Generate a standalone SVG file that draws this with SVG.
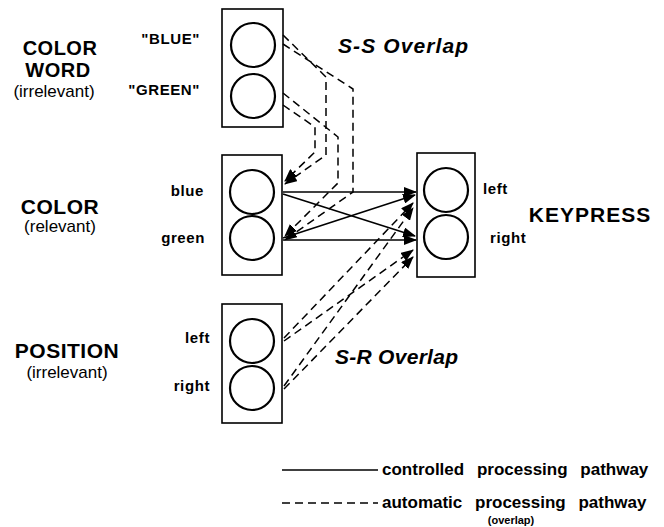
<svg xmlns="http://www.w3.org/2000/svg" width="664" height="527" viewBox="0 0 664 527">
<defs>
<style>
.box{fill:none;stroke:#000;stroke-width:1.6}
.cir{fill:none;stroke:#000;stroke-width:2.2}
.sol{fill:none;stroke:#000;stroke-width:1.6}
.dash{fill:none;stroke:#000;stroke-width:1.5;stroke-dasharray:8 5}
.big{font-family:"Liberation Sans",Arial,sans-serif;font-weight:bold;font-size:21px;letter-spacing:0.5px;fill:#000}
.sub{font-family:"Liberation Sans",Arial,sans-serif;font-size:17px;fill:#000}
.lab{font-family:"Liberation Sans",Arial,sans-serif;font-weight:bold;font-size:15px;letter-spacing:0.6px;fill:#000}
.ovl{font-family:"Liberation Sans",Arial,sans-serif;font-weight:bold;font-style:italic;font-size:21px;fill:#000}
.leg{font-family:"Liberation Sans",Arial,sans-serif;font-weight:bold;font-size:17px;word-spacing:8px;fill:#000}
</style>
<marker id="ah" viewBox="0 0 13 10" refX="12" refY="5" markerWidth="13" markerHeight="10" markerUnits="userSpaceOnUse" orient="auto">
<path d="M0,0 L13,5 L0,10 z" fill="#000"/>
</marker>
</defs>
<rect width="664" height="527" fill="#fff"/>

<g id="colorword">
<rect class="box" x="222" y="9" width="61" height="118"/>
<circle class="cir" cx="253" cy="45" r="22"/>
<circle class="cir" cx="253" cy="96" r="22"/>
<text class="big" x="60" y="55" text-anchor="middle" style="font-size:20px">COLOR</text>
<text class="big" x="58" y="77" text-anchor="middle" style="font-size:20px">WORD</text>
<text class="sub" x="54" y="97" text-anchor="middle">(irrelevant)</text>
<text class="lab" x="200" y="44" text-anchor="end">"BLUE"</text>
<text class="lab" x="200" y="95" text-anchor="end">"GREEN"</text>
</g>

<g id="color">
<rect class="box" x="222" y="155" width="60" height="120"/>
<circle class="cir" cx="252" cy="192" r="22"/>
<circle class="cir" cx="252" cy="238" r="22"/>
<text class="big" x="60" y="214" text-anchor="middle">COLOR</text>
<text class="sub" x="60" y="232" text-anchor="middle">(relevant)</text>
<text class="lab" x="204" y="196" text-anchor="end">blue</text>
<text class="lab" x="205" y="243" text-anchor="end">green</text>
</g>

<g id="position">
<rect class="box" x="222" y="304" width="60" height="119"/>
<circle class="cir" cx="252" cy="341" r="22"/>
<circle class="cir" cx="252" cy="388" r="22"/>
<text class="big" x="67" y="358" text-anchor="middle">POSITION</text>
<text class="sub" x="67" y="378" text-anchor="middle">(irrelevant)</text>
<text class="lab" x="210" y="343" text-anchor="end">left</text>
<text class="lab" x="210" y="391" text-anchor="end">right</text>
</g>

<g id="keypress">
<rect class="box" x="417" y="153" width="58" height="124"/>
<circle class="cir" cx="446" cy="190" r="22"/>
<circle class="cir" cx="446" cy="237" r="22"/>
<text class="big" x="590" y="222" text-anchor="middle" style="letter-spacing:1px">KEYPRESS</text>
<text class="lab" x="483" y="194">left</text>
<text class="lab" x="490" y="243">right</text>
</g>

<g id="overlap-labels">
<text class="ovl" x="338" y="53" textLength="130" lengthAdjust="spacing">S-S Overlap</text>
<text class="ovl" x="335" y="364" textLength="123" lengthAdjust="spacing">S-R Overlap</text>
</g>

<g id="connectors">
<line class="sol" x1="283" y1="192" x2="416" y2="192" marker-end="url(#ah)"/>
<line class="sol" x1="283" y1="240" x2="416" y2="240" marker-end="url(#ah)"/>
<line class="sol" x1="283" y1="194" x2="415" y2="236" marker-end="url(#ah)"/>
<line class="sol" x1="283" y1="238" x2="415" y2="195" marker-end="url(#ah)"/>

<polyline class="dash" points="283,35 326,77 326,155 285,184" marker-end="url(#ah)"/>
<polyline class="dash" points="283,44 353,89 353,192 285,240" marker-end="url(#ah)"/>
<polyline class="dash" points="283,93 338,137 338,183 285,236" marker-end="url(#ah)"/>
<polyline class="dash" points="283,105 315,127 315,152 285,181" marker-end="url(#ah)"/>

<line class="dash" x1="284" y1="338" x2="413" y2="203" marker-end="url(#ah)"/>
<line class="dash" x1="284" y1="341" x2="413" y2="250" marker-end="url(#ah)"/>
<line class="dash" x1="284" y1="386" x2="413" y2="208" marker-end="url(#ah)"/>
<line class="dash" x1="284" y1="389" x2="413" y2="257" marker-end="url(#ah)"/>
</g>

<g id="legend">
<line class="sol" x1="282" y1="470" x2="378" y2="470"/>
<text class="leg" x="382" y="475">controlled processing pathway</text>
<line class="dash" x1="282" y1="503" x2="378" y2="503"/>
<text class="leg" x="382" y="508">automatic processing pathway</text>
<text class="lab" x="511" y="524" text-anchor="middle" style="font-size:11px;letter-spacing:0">(overlap)</text>
</g>
</svg>
